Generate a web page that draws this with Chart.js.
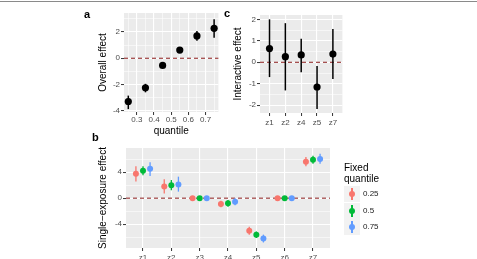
<!DOCTYPE html>
<html><head><meta charset="utf-8">
<script src="https://cdn.jsdelivr.net/npm/chart.js@4/dist/chart.umd.min.js"></script>
<style>
html,body{margin:0;padding:0;background:#fff;width:477px;height:259px;overflow:hidden;position:relative;font-family:"Liberation Sans",Arial,sans-serif;}
canvas{position:absolute;}
.tag{position:absolute;font-weight:bold;font-size:11px;line-height:11px;color:#000;}
.lt{position:absolute;font-size:10px;line-height:10px;color:#000;white-space:nowrap;}
.li{position:absolute;font-size:8px;line-height:8px;color:#1a1a1a;white-space:nowrap;}
.key{position:absolute;width:16px;height:16px;background:#F2F2F2;}
</style></head><body>
<div style="position:absolute;left:0;top:1px;width:477px;height:1px;background:#8a8a8a"></div>
<canvas id="ca" width="142" height="140" style="left:80px;top:0px"></canvas>
<canvas id="cc" width="122" height="135" style="left:224px;top:0px"></canvas>
<canvas id="cb" width="255" height="140" style="left:80px;top:128px"></canvas>
<div class="tag" style="left:84px;top:9px">a</div>
<div class="tag" style="left:224px;top:8px">c</div>
<div class="tag" style="left:92px;top:132px">b</div>
<div id="legend"></div>
<script>
// ---- Panel a: overall effect by quantile ----
const quantiles = [0.25, 0.35, 0.45, 0.55, 0.65, 0.75];
const overallEffect = [-3.3, -2.25, -0.55, 0.62, 1.7, 2.28];
const overallLow = [-3.88, -2.6, -0.75, 0.45, 1.33, 1.56];
const overallHigh = [-2.85, -1.95, -0.35, 0.8, 2.08, 2.98];
const xTicksA = [0.3, 0.4, 0.5, 0.6, 0.7];
const xMinorA = [0.25, 0.35, 0.45, 0.55, 0.65, 0.75];
const yTicksA = [-4, -2, 0, 2];
const yMinorA = [-3, -1, 1, 3];

// ---- Panel c: interactive effect ----
const interCats = ['z1', 'z2', 'z4', 'z5', 'z7'];
const interEffect = [0.64, 0.26, 0.34, -1.15, 0.38];
const interLow = [-0.69, -1.31, -0.46, -2.17, -0.78];
const interHigh = [2.0, 1.82, 1.10, -0.17, 1.55];
const yTicksC = [-2, -1, 0, 1, 2];
const yMinorC = [-1.5, -0.5, 0.5, 1.5];

// ---- Panel b: single-exposure effect ----
const singleCats = ['z1', 'z2', 'z3', 'z4', 'z5', 'z6', 'z7'];
const fixedQuantiles = ['0.25', '0.5', '0.75'];
const single25 = [3.75, 1.8, 0, -0.9, -5.0, 0, 5.6];
const single25Low = [2.55, 0.7, 0, -1.4, -5.6, 0, 4.9];
const single25High = [4.9, 2.9, 0, -0.4, -4.4, 0, 6.3];
const single50 = [4.2, 2.0, 0, -0.8, -5.6, 0, 5.9];
const single50Low = [3.5, 1.2, 0, -1.3, -6.1, 0, 5.3];
const single50High = [4.9, 2.8, 0, -0.3, -5.1, 0, 6.5];
const single75 = [4.5, 2.1, 0, -0.55, -6.2, 0, 6.0];
const single75Low = [3.4, 1.0, 0, -1.1, -6.8, 0, 5.3];
const single75High = [5.5, 3.3, 0, 0.0, -5.6, 0, 6.8];
const yTicksB = [-4, 0, 4];
const yMinorB = [-6, -2, 2, 6];
const seriesColors = ['#F8766D', '#00BA38', '#619CFF'];
const dodge = [-0.25, 0, 0.25];

const FONT = "'Liberation Sans', Arial, sans-serif";
const tickFont = {family: FONT, size: 8};
const titleFont = {family: FONT, size: 10};

const panelPlugin = {
  id: 'panel',
  beforeDraw(chart) {
    const {ctx, chartArea: a} = chart;
    ctx.save();
    ctx.fillStyle = '#EBEBEB';
    ctx.fillRect(a.left, a.top, a.right - a.left, a.bottom - a.top);
    ctx.restore();
  },
  beforeDatasetsDraw(chart) {
    const {ctx, chartArea: a, scales} = chart;
    const x = scales.x, y = scales.y;
    ctx.save();
    const y0 = y.getPixelForValue(0);
    ctx.strokeStyle = '#8B1A1A';
    ctx.lineWidth = 1;
    ctx.setLineDash([4, 3]);
    ctx.beginPath(); ctx.moveTo(a.left, y0); ctx.lineTo(a.right, y0); ctx.stroke();
    ctx.setLineDash([]);
    chart.data.datasets.forEach(ds => {
      if (!ds.low) return;
      ctx.strokeStyle = ds.pointBackgroundColor;
      ctx.lineWidth = ds.errWidth;
      ds.data.forEach((p, j) => {
        const px = x.getPixelForValue(p.x);
        ctx.beginPath();
        ctx.moveTo(px, y.getPixelForValue(ds.low[j]));
        ctx.lineTo(px, y.getPixelForValue(ds.high[j]));
        ctx.stroke();
      });
    });
    ctx.restore();
  }
};

function axis(opts) {
  const major = opts.major, all = opts.major.concat(opts.minor || []);
  return {
    type: 'linear',
    position: opts.position,
    min: opts.min, max: opts.max,
    afterBuildTicks: ax => { ax.ticks = all.slice().sort((p, q) => p - q).map(v => ({value: v})); },
    afterFit: ax => { if (opts.width != null) ax.width = opts.width; if (opts.height != null) ax.height = opts.height; },
    border: {display: false},
    grid: {
      color: '#FFFFFF',
      lineWidth: c => (c.tick && major.includes(c.tick.value)) ? 1.1 : 0.55,
      tickColor: c => (c.tick && major.includes(c.tick.value)) ? '#333333' : 'rgba(0,0,0,0)',
      tickWidth: c => (c.tick && major.includes(c.tick.value)) ? 1 : 0,
      tickLength: 3,
      drawTicks: true
    },
    ticks: {
      autoSkip: false, maxRotation: 0, minRotation: 0,
      font: tickFont, color: '#4D4D4D', padding: opts.tickPad != null ? opts.tickPad : 1,
      callback: v => major.includes(v) ? opts.label(v) : ''
    },
    title: opts.title ? {display: true, text: opts.title, font: titleFont, color: '#000', padding: opts.titlePad} : {display: false}
  };
}

const base = {
  responsive: false, animation: false, devicePixelRatio: 1,
  plugins: {legend: {display: false}, tooltip: {enabled: false}},
  events: []
};

// Panel a
new Chart(document.getElementById('ca'), {
  type: 'scatter',
  data: {datasets: [{
    data: quantiles.map((q, i) => ({x: q, y: overallEffect[i]})),
    low: overallLow, high: overallHigh, errWidth: 1.5,
    pointBackgroundColor: '#000', pointBorderWidth: 0, pointRadius: 3.6, pointHoverRadius: 3.6
  }]},
  options: Object.assign({}, base, {
    layout: {padding: {left: 0, top: 13, right: 2.5, bottom: 0}},
    scales: {
      x: axis({position: 'bottom', min: 0.225, max: 0.775, major: xTicksA, minor: xMinorA, height: 28,
        label: v => String(v), title: 'quantile', titlePad: {top: 0, bottom: 3}, tickPad: 0}),
      y: axis({position: 'left', min: -4.1, max: 3.45, major: yTicksA, minor: yMinorA, width: 44,
        label: v => String(v), title: 'Overall effect', titlePad: {top: 17, bottom: 0}})
    }
  }),
  plugins: [panelPlugin]
});

// Panel c
new Chart(document.getElementById('cc'), {
  type: 'scatter',
  data: {datasets: [{
    data: interCats.map((c, i) => ({x: i + 1, y: interEffect[i]})),
    low: interLow, high: interHigh, errWidth: 1.5,
    pointBackgroundColor: '#000', pointBorderWidth: 0, pointRadius: 3.6, pointHoverRadius: 3.6
  }]},
  options: Object.assign({}, base, {
    layout: {padding: {left: 0, top: 15, right: 3, bottom: 0}},
    scales: {
      x: axis({position: 'bottom', min: 0.4, max: interCats.length + 0.6, major: interCats.map((c, i) => i + 1), height: 22,
        label: v => interCats[v - 1], tickPad: 2}),
      y: axis({position: 'left', min: -2.36, max: 2.2, major: yTicksC, minor: yMinorC, width: 36,
        label: v => String(v), title: 'Interactive effect', titlePad: {top: 8, bottom: 0}})
    }
  }),
  plugins: [panelPlugin]
});

// Panel b
const singleSeries = [
  [single25, single25Low, single25High],
  [single50, single50Low, single50High],
  [single75, single75Low, single75High]
];
new Chart(document.getElementById('cb'), {
  type: 'scatter',
  data: {datasets: singleSeries.map((s, k) => ({
    label: fixedQuantiles[k],
    data: singleCats.map((c, i) => ({x: i + 1 + dodge[k], y: s[0][i]})),
    low: s[1], high: s[2], errWidth: 1.3,
    pointBackgroundColor: seriesColors[k], pointBorderWidth: 0, pointRadius: 3, pointHoverRadius: 3
  }))},
  options: Object.assign({}, base, {
    layout: {padding: {left: 0, top: 20, right: 5, bottom: 0}},
    scales: {
      x: axis({position: 'bottom', min: 0.4, max: singleCats.length + 0.6, major: singleCats.map((c, i) => i + 1), height: 20,
        label: v => singleCats[v - 1], tickPad: 2}),
      y: axis({position: 'left', min: -7.65, max: 7.7, major: yTicksB, minor: yMinorB, width: 46,
        label: v => String(v), title: 'Single\u2212exposure effect', titlePad: {top: 17, bottom: 0}})
    }
  }),
  plugins: [panelPlugin]
});

// Legend (HTML)
const leg = document.getElementById('legend');
const t1 = document.createElement('div'); t1.className = 'lt'; t1.style.left = '344px'; t1.style.top = '163px'; t1.textContent = 'Fixed'; leg.appendChild(t1);
const t2 = document.createElement('div'); t2.className = 'lt'; t2.style.left = '344px'; t2.style.top = '174px'; t2.textContent = 'quantile'; leg.appendChild(t2);
fixedQuantiles.forEach((q, i) => {
  const top = 186 + i * 16.5;
  const key = document.createElement('div'); key.className = 'key';
  key.style.left = '344px'; key.style.top = top + 'px';
  key.innerHTML = '<div style="position:absolute;left:7.3px;top:2px;width:1.4px;height:12px;background:' + seriesColors[i] + '"></div>' +
    '<div style="position:absolute;left:5px;top:5px;width:6px;height:6px;border-radius:50%;background:' + seriesColors[i] + '"></div>';
  leg.appendChild(key);
  const lab = document.createElement('div'); lab.className = 'li';
  lab.style.left = '363px'; lab.style.top = (top + 4) + 'px'; lab.textContent = q;
  leg.appendChild(lab);
});
</script>
</body></html>
